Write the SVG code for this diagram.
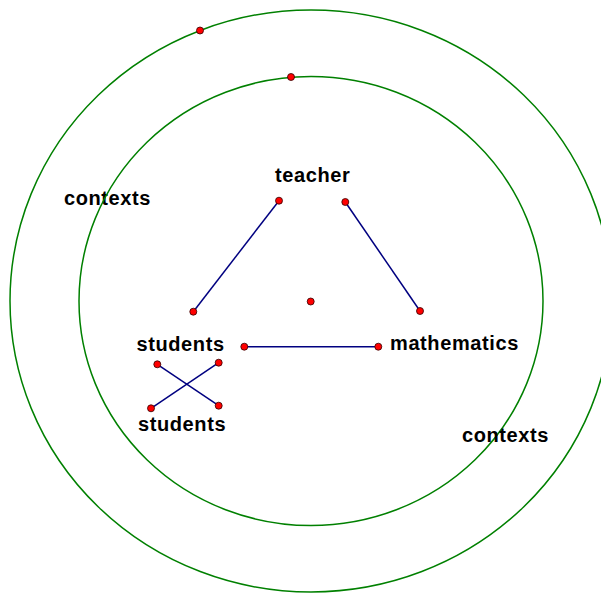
<svg xmlns="http://www.w3.org/2000/svg" width="601" height="593" viewBox="0 0 601 593">
<style>
.ring{fill:none;stroke:#008000;stroke-width:1.5}
.edge{stroke:#000080;stroke-width:1.5;fill:none}
.pt{fill:#ff0000;stroke:#300000;stroke-width:0.8}
.lbl{font-family:"Liberation Sans",Arial,sans-serif;font-weight:bold;font-size:20px;letter-spacing:0.6px;fill:#000}
</style>
<rect width="601" height="593" fill="#fff"/>
<g id="outer-context">
<ellipse class="ring" cx="311" cy="301" rx="301" ry="291"/>
<circle class="pt" cx="200" cy="30.5" r="3.5"/>
<text class="lbl" x="64" y="205">contexts</text>
</g>
<g id="inner-context">
<ellipse class="ring" cx="311" cy="301" rx="232" ry="224.5"/>
<circle class="pt" cx="291" cy="77" r="3.5"/>
<text class="lbl" x="462" y="442">contexts</text>
</g>
<g id="connectors">
<line class="edge" x1="279" y1="200.7" x2="193.3" y2="311.7"/>
<line class="edge" x1="345.3" y1="202" x2="420" y2="311"/>
<line class="edge" x1="244.3" y1="346.7" x2="378.3" y2="346.7"/>
<line class="edge" x1="157.3" y1="364.3" x2="218.7" y2="405.7"/>
<line class="edge" x1="218.7" y1="362.7" x2="151" y2="408.3"/>
</g>
<g id="teacher">
<text class="lbl" x="275" y="182">teacher</text>
<circle class="pt" cx="279" cy="200.7" r="3.5"/>
<circle class="pt" cx="345.3" cy="202" r="3.5"/>
</g>
<g id="center">
<circle class="pt" cx="310.7" cy="301.5" r="3.5"/>
</g>
<g id="students">
<text class="lbl" x="136.5" y="351">students</text>
<circle class="pt" cx="193.3" cy="311.7" r="3.5"/>
<circle class="pt" cx="244.3" cy="346.7" r="3.5"/>
</g>
<g id="mathematics">
<text class="lbl" x="390" y="349.5">mathematics</text>
<circle class="pt" cx="420" cy="311" r="3.5"/>
<circle class="pt" cx="378.3" cy="346.7" r="3.5"/>
</g>
<g id="students-2">
<circle class="pt" cx="157.3" cy="364.3" r="3.5"/>
<circle class="pt" cx="218.7" cy="362.7" r="3.5"/>
<circle class="pt" cx="151" cy="408.3" r="3.5"/>
<circle class="pt" cx="218.7" cy="405.7" r="3.5"/>
<text class="lbl" x="138" y="430.5">students</text>
</g>
</svg>
